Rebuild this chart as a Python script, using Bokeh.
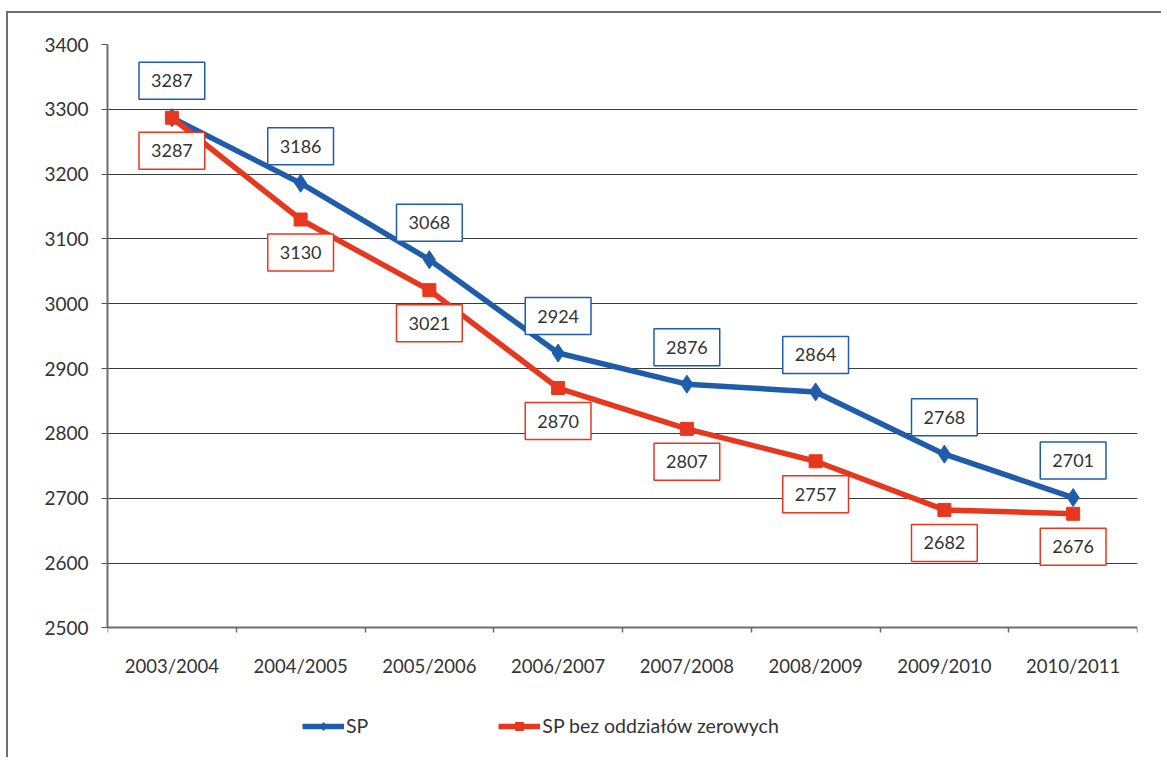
from bokeh.plotting import figure
from bokeh.models import FixedTicker, Legend, LegendItem, ColumnDataSource, Range1d
from bokeh.core.properties import value
from bokeh.embed import file_html
from bokeh.resources import INLINE

categories = ["2003/2004", "2004/2005", "2005/2006", "2006/2007",
              "2007/2008", "2008/2009", "2009/2010", "2010/2011"]
sp = [3287, 3186, 3068, 2924, 2876, 2864, 2768, 2701]
sp_bez = [3287, 3130, 3021, 2870, 2807, 2757, 2682, 2676]
y_ticks = [2500, 2600, 2700, 2800, 2900, 3000, 3100, 3200, 3300, 3400]

BLUE = "#1f5dab"
RED = "#e8371f"
FONT = "Lato"

xs = [i + 0.5 for i in range(len(categories))]

# the frame extends below 2500 to leave room for the category labels and legend
p = figure(frame_width=1030, frame_height=713, output_backend="svg", toolbar_location=None,
           x_range=Range1d(0, len(categories)), y_range=Range1d(2300, y_ticks[-1]),
           min_border_left=99, min_border_right=24, min_border_top=31, min_border_bottom=0)
p.styles = {"border-left": "2px solid #6e6e6e", "border-top": "2px solid #6e6e6e",
            "margin-top": "11px", "margin-left": "6px"}
p.background_fill_color = "white"
p.border_fill_color = "white"
p.outline_line_color = None

# axes
p.xaxis.fixed_location = y_ticks[0]
p.xaxis.ticker = FixedTicker(ticks=xs, minor_ticks=list(range(len(categories) + 1)))
p.xaxis.major_label_overrides = {x: c for x, c in zip(xs, categories)}
p.xaxis.major_tick_line_color = None
p.xaxis.minor_tick_in = 0
p.xaxis.minor_tick_out = 5
p.xaxis.minor_tick_line_color = "#6e6e6e"
p.xaxis.minor_tick_line_width = 1.5
p.xaxis.axis_line_color = "#6e6e6e"
p.xaxis.axis_line_width = 2
p.xaxis.major_label_standoff = 21
p.xaxis.major_label_text_font = FONT
p.xaxis.major_label_text_font_size = "18.5px"
p.xaxis.major_label_text_color = "#333333"

p.yaxis.bounds = (y_ticks[0], y_ticks[-1])
p.yaxis.ticker = FixedTicker(ticks=y_ticks)
p.yaxis.major_tick_in = 0
p.yaxis.major_tick_out = 6
p.yaxis.major_tick_line_color = "#555555"
p.yaxis.minor_tick_line_color = None
p.yaxis.axis_line_color = "#6e6e6e"
p.yaxis.axis_line_width = 2
p.yaxis.major_label_standoff = 13
p.yaxis.major_label_text_font = FONT
p.yaxis.major_label_text_font_size = "19px"
p.yaxis.major_label_text_color = "#333333"

p.xgrid.grid_line_color = None
p.ygrid.ticker = FixedTicker(ticks=y_ticks[1:])
p.ygrid.grid_line_color = "#3c3c3c"
p.ygrid.grid_line_width = 1.2

src = ColumnDataSource(dict(x=xs, sp=sp, bez=sp_bez,
                            sp_t=[str(v) for v in sp], bez_t=[str(v) for v in sp_bez]))

l1 = p.line("x", "sp", source=src, line_color=BLUE, line_width=5.5)
m1 = p.scatter("x", "sp", source=src, marker="diamond", size=18, fill_color=BLUE, line_color=BLUE)
l2 = p.line("x", "bez", source=src, line_color=RED, line_width=5.5)
m2 = p.scatter("x", "bez", source=src, marker="square", size=13, fill_color=RED, line_color=RED)

# data labels
p.text("x", "sp", text="sp_t", source=src, y_offset=-37, text_align="center",
       text_baseline="middle", text_font=value(FONT), text_font_size="18px",
       text_color="#333333", background_fill_color="white", border_line_color=BLUE,
       border_line_width=1.5, padding=(12, 12))
p.text("x", "bez", text="bez_t", source=src, y_offset=33, text_align="center",
       text_baseline="middle", text_font=value(FONT), text_font_size="18px",
       text_color="#333333", background_fill_color="white", border_line_color=RED,
       border_line_width=1.5, padding=(12, 12))

legend = Legend(items=[LegendItem(label="SP", renderers=[l1, m1]),
                       LegendItem(label="SP bez oddziałów zerowych", renderers=[l2, m2])],
                orientation="horizontal", location=(195, 20), glyph_width=42,
                spacing=130, label_text_font=FONT, label_text_font_size="19.5px",
                label_text_color="#333333", border_line_color=None,
                background_fill_alpha=0, margin=0, padding=0, label_standoff=2)
p.add_layout(legend, "center")

open("out.html", "w").write(file_html(p, INLINE))
